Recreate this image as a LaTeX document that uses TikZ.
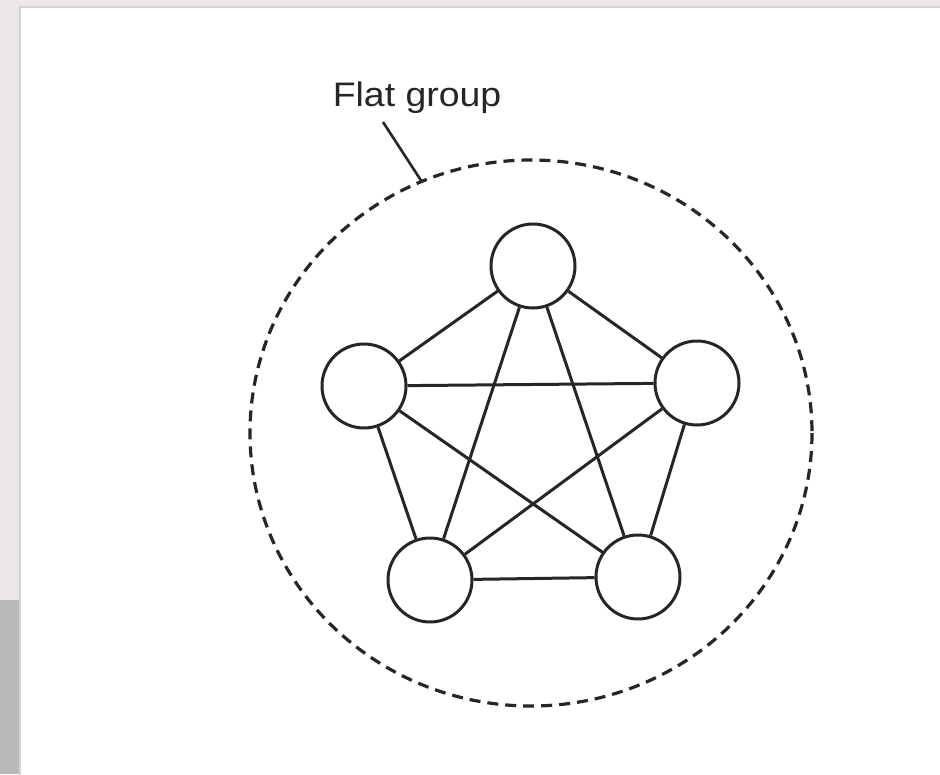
\documentclass[tikz,border=0pt]{standalone}
\usepackage{fontspec}
\setmainfont{Liberation Sans}
\definecolor{outergrey}{HTML}{ECE8E8}
\definecolor{shadowgrey}{HTML}{B9B7B7}
\definecolor{framegrey}{HTML}{D4D2D2}
\definecolor{ink}{HTML}{262626}
\begin{document}
\begin{tikzpicture}[x=1pt,y=-1pt,
  peer/.style={draw=ink,line width=3pt,circle,minimum size=84pt,inner sep=0pt,fill=white},
  link/.style={draw=ink,line width=3pt},
  grouprim/.style={draw=ink,line width=3.2pt,dash pattern=on 11pt off 7pt}]
\useasboundingbox (0,0) rectangle (940,774);
\fill[outergrey] (0,0) rectangle (940,774);
\fill[shadowgrey] (0,600) rectangle (20,774);
\fill[white,draw=framegrey,line width=1.5pt] (20,7) rectangle (946,780);
% group boundary
\draw[grouprim] (531,433) ellipse [x radius=281, y radius=273];
% nodes
\node[peer] (t) at (533,266) {};
\node[peer] (l) at (364,386) {};
\node[peer] (r) at (697,383) {};
\node[peer] (bl) at (430,580) {};
\node[peer] (br) at (638,577) {};
% links
\draw[link] (t) -- (l);
\draw[link] (t) -- (r);
\draw[link] (t) -- (bl);
\draw[link] (t) -- (br);
\draw[link] (l) -- (r);
\draw[link] (l) -- (bl);
\draw[link] (l) -- (br);
\draw[link] (r) -- (bl);
\draw[link] (r) -- (br);
\draw[link] (bl) -- (br);
% label
\node[text=ink,inner sep=0pt] (lab) at (417,98) {\scalebox{1.1}[1]{\fontsize{34}{36}\selectfont Flat group}};
\coordinate (ls) at (383,122);
\coordinate (le) at (422,182);
\draw[link,line width=2.6pt] (ls) -- (le);
\end{tikzpicture}
\end{document}
